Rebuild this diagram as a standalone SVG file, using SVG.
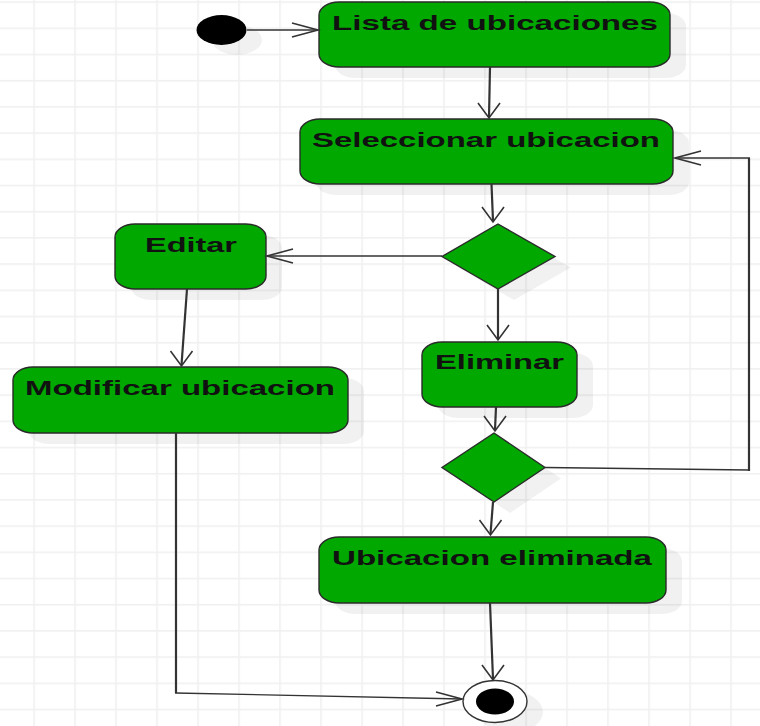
<svg xmlns="http://www.w3.org/2000/svg" width="760" height="726" viewBox="0 0 760 726">
  <defs>
    <pattern id="grid" patternUnits="userSpaceOnUse" x="33.2" y="1.3" width="41" height="26.2">
      <rect x="0" y="0" width="1.6" height="26.2" fill="#f0f0f0"/>
      <rect x="0" y="0" width="41" height="1.6" fill="#f0f0f0"/>
    </pattern>
    <path id="head-down" d="M-11,-15 L0,0 L11,-15"/>
    <path id="head-left" d="M26,-7 L0,0 L26,7"/>
    <path id="head-right" d="M-26,-7 L0,0 L-26,7"/>
  </defs>
  <style>
    .shadow { fill: #000; fill-opacity: 0.055; stroke: none; }
    .act { fill: #00a800; stroke: #2a2a2a; stroke-width: 1.4; }
    .label { font-family: "Liberation Sans", Arial, sans-serif; font-weight: bold; font-size: 21px; fill: #111; }
    .edge { fill: none; stroke: #333; stroke-linejoin: miter; }
    .h { stroke-width: 1.3; }
    .v { stroke-width: 2.2; }
    .head { fill: none; stroke: #333; stroke-width: 1.6; }
  </style>

  <rect width="760" height="726" fill="#fff"/>
  <rect width="760" height="726" fill="url(#grid)"/>

  <!-- start node -->
  <g id="start">
    <ellipse class="shadow" cx="237" cy="40" rx="25" ry="15"/>
    <ellipse cx="221.5" cy="30" rx="25" ry="15" fill="#000"/>
  </g>

  <g id="lista">
    <rect class="shadow" x="335" y="13" width="351" height="65" rx="20" ry="13"/>
    <rect class="act" x="319" y="2" width="351" height="65" rx="20" ry="13"/>
    <text class="label" x="332" y="30" textLength="326" lengthAdjust="spacingAndGlyphs">Lista de ubicaciones</text>
  </g>

  <g id="seleccionar">
    <rect class="shadow" x="316" y="130" width="373" height="65" rx="20" ry="13"/>
    <rect class="act" x="300" y="119" width="373" height="65" rx="20" ry="13"/>
    <text class="label" x="312" y="147" textLength="348" lengthAdjust="spacingAndGlyphs">Seleccionar ubicacion</text>
  </g>

  <g id="decision1">
    <polygon class="shadow" points="514,235 571,267.5 514,300 458,267.5"/>
    <polygon class="act" points="498,224 555,256.5 498,289 442,256.5"/>
  </g>

  <g id="editar">
    <rect class="shadow" x="131" y="235" width="151" height="65" rx="20" ry="13"/>
    <rect class="act" x="115" y="224" width="151" height="65" rx="20" ry="13"/>
    <text class="label" x="145" y="251.5" textLength="92" lengthAdjust="spacingAndGlyphs">Editar</text>
  </g>

  <g id="modificar">
    <rect class="shadow" x="29" y="378" width="335" height="66" rx="20" ry="13"/>
    <rect class="act" x="13" y="367" width="335" height="66" rx="20" ry="13"/>
    <text class="label" x="25" y="395" textLength="310" lengthAdjust="spacingAndGlyphs">Modificar ubicacion</text>
  </g>

  <g id="eliminar">
    <rect class="shadow" x="438" y="353" width="155" height="65" rx="20" ry="13"/>
    <rect class="act" x="422" y="342" width="155" height="65" rx="20" ry="13"/>
    <text class="label" x="435" y="369" textLength="129" lengthAdjust="spacingAndGlyphs">Eliminar</text>
  </g>

  <g id="decision2">
    <polygon class="shadow" points="510,444 561,478.5 510,513 458,478.5"/>
    <polygon class="act" points="494,433 545,467.5 494,502 442,467.5"/>
  </g>

  <g id="eliminada">
    <rect class="shadow" x="335" y="548" width="347" height="66" rx="20" ry="13"/>
    <rect class="act" x="319" y="537" width="347" height="66" rx="20" ry="13"/>
    <text class="label" x="332" y="565" textLength="320" lengthAdjust="spacingAndGlyphs">Ubicacion eliminada</text>
  </g>

  <!-- final node -->
  <g id="end">
    <ellipse class="shadow" cx="511" cy="712" rx="32" ry="21"/>
    <ellipse cx="495" cy="701.5" rx="32" ry="21" fill="#fff" stroke="#333" stroke-width="1.4"/>
    <ellipse cx="495" cy="701.5" rx="19" ry="13" fill="#000"/>
  </g>

  <g id="connectors">
    <line class="edge h" x1="247" y1="30" x2="318" y2="30"/>
    <use href="#head-right" class="head" x="318" y="30"/>

    <line class="edge v" x1="490" y1="67" x2="489" y2="117"/>
    <use href="#head-down" class="head" x="489" y="118"/>

    <line class="edge v" x1="491.5" y1="184" x2="493" y2="221"/>
    <use href="#head-down" class="head" x="493" y="222"/>

    <line class="edge h" x1="442" y1="256" x2="267" y2="256"/>
    <use href="#head-left" class="head" x="267" y="256"/>

    <line class="edge v" x1="187" y1="289" x2="181.5" y2="365"/>
    <use href="#head-down" class="head" x="181.5" y="366"/>

    <polyline class="edge v" points="176,433 176,693"/>
    <polyline class="edge h" points="175,693 462,699"/>
    <use href="#head-right" class="head" x="462" y="699"/>

    <line class="edge v" x1="498" y1="289" x2="498" y2="339"/>
    <use href="#head-down" class="head" x="498" y="340"/>

    <line class="edge v" x1="496" y1="407" x2="495" y2="430"/>
    <use href="#head-down" class="head" x="495" y="431"/>

    <polyline class="edge h" points="545,467.5 749,470"/>
    <polyline class="edge v" points="749,471 749,158"/>
    <polyline class="edge h" points="750,158 675,158"/>
    <use href="#head-left" class="head" x="675" y="158"/>

    <line class="edge v" x1="493" y1="502" x2="490.5" y2="534"/>
    <use href="#head-down" class="head" x="490.5" y="535"/>

    <line class="edge v" x1="490" y1="603" x2="493" y2="679"/>
    <use href="#head-down" class="head" x="493" y="680"/>
  </g>
</svg>
